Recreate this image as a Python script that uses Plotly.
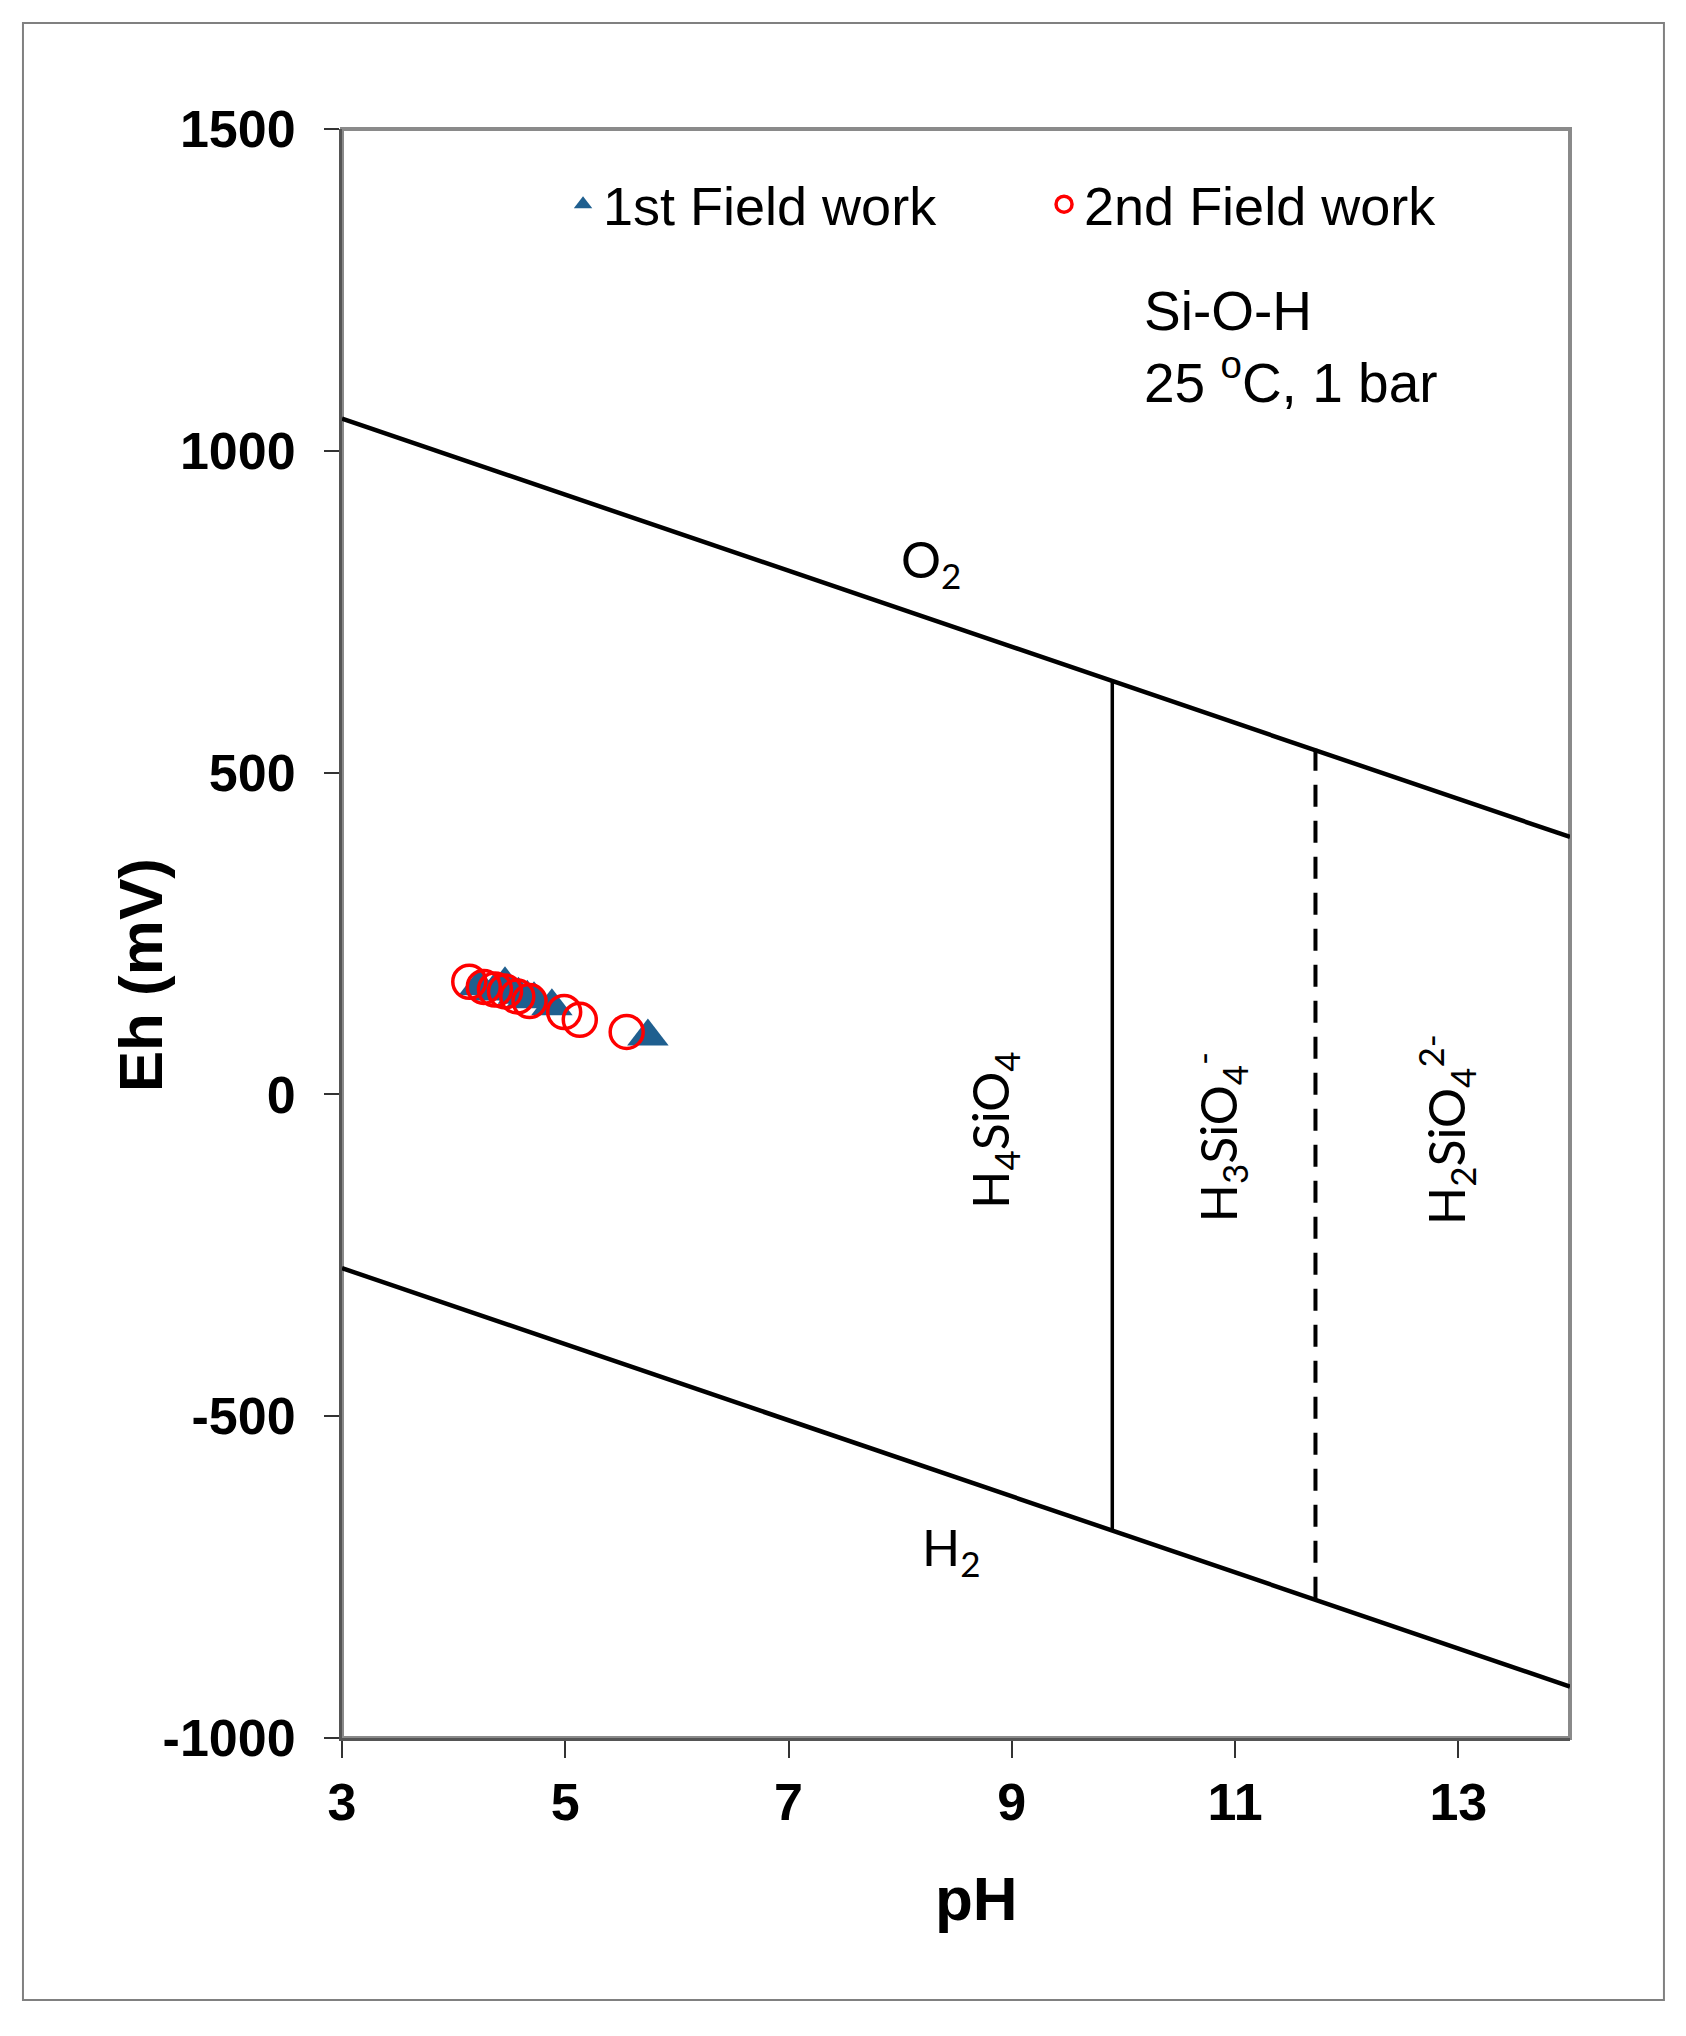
import plotly.graph_objects as go

# Eh-pH diagram, Si-O-H system
ph_field1 = [4.23, 4.36, 4.46, 4.58, 4.66, 4.72, 4.88, 5.74]
eh_field1 = [168, 160, 171, 155, 150, 148, 137, 90]

ph_field2 = [4.14, 4.27, 4.37, 4.46, 4.57, 4.68, 4.99, 5.13, 5.55]
eh_field2 = [175, 167, 163, 160, 152, 145, 128, 116, 97]

# water stability limits
ph_limit = [3, 14]
eh_o2 = [1050, 400]
eh_h2 = [-270, -920]

# species boundaries
ph_b1 = [9.9, 9.9]
eh_b1 = [643, -677]
ph_b2 = [11.72, 11.72]
eh_b2 = [537, -785]

x_ticks = [3, 5, 7, 9, 11, 13]
y_ticks = [-1000, -500, 0, 500, 1000, 1500]
y_tick_labels = ['-1000', '-500', '0', '500', '1000', '1500']

fig = go.Figure()

fig.add_trace(go.Scatter(x=ph_limit, y=eh_o2, mode='lines', line=dict(color='black', width=4.5),
                         showlegend=False, hoverinfo='skip'))
fig.add_trace(go.Scatter(x=ph_limit, y=eh_h2, mode='lines', line=dict(color='black', width=4.5),
                         showlegend=False, hoverinfo='skip'))
fig.add_trace(go.Scatter(x=ph_b1, y=eh_b1, mode='lines', line=dict(color='black', width=3.5),
                         showlegend=False, hoverinfo='skip'))
fig.add_trace(go.Scatter(x=ph_b2, y=eh_b2, mode='lines', line=dict(color='black', width=4, dash='22px,14px'),
                         showlegend=False, hoverinfo='skip'))

fig.add_trace(go.Scatter(x=ph_field1, y=eh_field1, mode='markers', name='1st Field work',
                         marker=dict(symbol='triangle-up', size=36, color='#1f5f8f')))
fig.add_trace(go.Scatter(x=ph_field2, y=eh_field2, mode='markers', name='2nd Field work',
                         marker=dict(symbol='circle-open', size=33, color='#ff0000',
                                     line=dict(color='#ff0000', width=3.5))))

axis_font = dict(family='Liberation Sans, Arial', size=52, color='black', weight='bold')
title_font = dict(family='Liberation Sans, Arial', size=62, color='black', weight='bold')

fig.update_xaxes(range=[3, 14], tickvals=x_ticks, ticks='outside', ticklen=17, tickwidth=2,
                 tickcolor='#333333', tickfont=axis_font, showgrid=False, zeroline=False,
                 showline=True, linecolor='#555555', linewidth=3, ticklabelstandoff=0)
fig.update_yaxes(range=[-1000, 1500], tickvals=y_ticks, ticktext=y_tick_labels, ticks='outside',
                 ticklen=15, tickwidth=2, tickcolor='#333333', tickfont=axis_font, showgrid=False,
                 zeroline=False, showline=True, linecolor='#555555', linewidth=3, ticklabelstandoff=18)

# axis titles placed by hand (the reference has them a bit off-centre)
fig.add_annotation(x=-0.1645, y=0.474, xref='paper', yref='paper', xanchor='center', yanchor='middle',
                   text='Eh (mV)', textangle=-90, showarrow=False, font=title_font)
fig.add_annotation(x=0.517, y=-0.1, xref='paper', yref='paper', xanchor='center', yanchor='middle',
                   text='pH', showarrow=False, font=title_font)

label_font = dict(family='Lato, Noto Sans', size=50, color='black')
fig.add_annotation(x=8.28, y=827, text='O<sub>2</sub>', showarrow=False, font=label_font)
fig.add_annotation(x=8.46, y=-708, text='H<sub>2</sub>', showarrow=False, font=label_font)
fig.add_annotation(x=8.84, y=-55, text='H<sub>4</sub>SiO<sub>4</sub>', textangle=-90,
                   showarrow=False, font=label_font)
fig.add_annotation(x=10.85, y=-66, text='H<sub>3</sub>SiO<sub>4</sub><sup>-</sup>', textangle=-90,
                   showarrow=False, font=label_font)
fig.add_annotation(x=12.89, y=-55, text='H<sub>2</sub>SiO<sub>4</sub><sup>2-</sup>', textangle=-90,
                   showarrow=False, font=label_font)

fig.add_annotation(x=0.6515, y=0.8648, xref='paper', yref='paper', xanchor='left', yanchor='middle',
                   align='left', showarrow=False, text='Si-O-H<br>25 <sup>o</sup>C, 1 bar',
                   font=dict(family='Liberation Sans, Arial', size=55, color='black'))

# plot border and outer frame
fig.add_shape(type='rect', xref='paper', yref='paper', x0=0, x1=1, y0=0, y1=1,
              line=dict(color='#8a8a8a', width=4), layer='below')
fig.add_shape(type='rect', xref='paper', yref='paper', x0=-0.2598, x1=1.0765, y0=-0.1628, y1=1.0659,
              line=dict(color='#808080', width=2))

# page body has an 8px margin, so the figure is 8px smaller and margins shifted
fig.update_layout(
    width=1678, height=2028,
    margin=dict(l=334, r=116, t=121, b=298),
    paper_bgcolor='white', plot_bgcolor='white',
    legend=dict(orientation='h', x=0.18, y=0.953, xanchor='left', yanchor='middle',
                entrywidth=436, bgcolor='rgba(0,0,0,0)',
                font=dict(family='Liberation Sans, Arial', size=54, color='black')),
)

fig.write_html("out.html")
